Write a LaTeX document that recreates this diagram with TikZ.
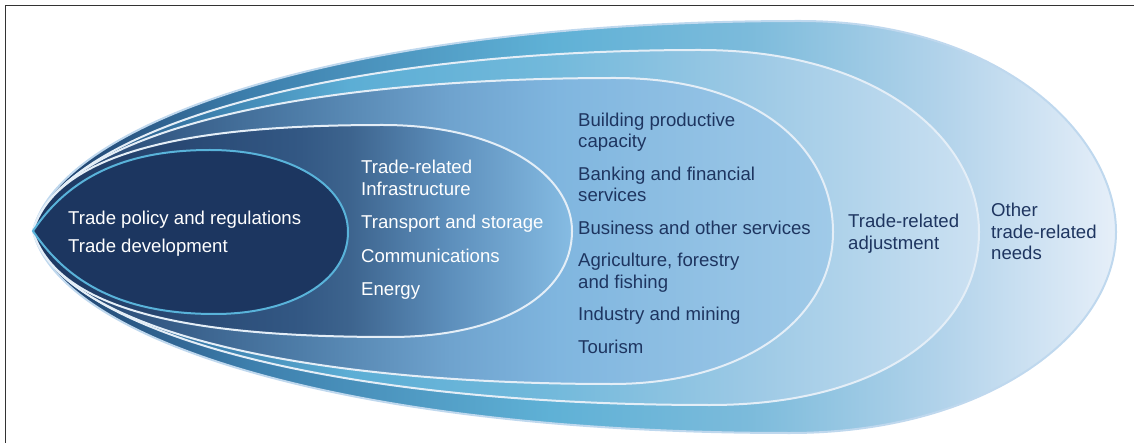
\documentclass[tikz,border=0pt]{standalone}
\usepackage{fontspec}
\setmainfont{Liberation Sans}
\usepackage{tikz}
\definecolor{navy}{HTML}{1C3660}
\definecolor{inktext}{HTML}{1E3560}
\definecolor{rimcyan}{HTML}{59B3DA}
\definecolor{rimwhite}{HTML}{E4EEF7}
\definecolor{rimouter}{HTML}{BFD8EE}
\definecolor{framegray}{HTML}{333333}
% horizontal fades, path box = 25bp..75bp
\pgfdeclarehorizontalshading{othershade}{100bp}{rgb(0bp)=(0.110,0.227,0.400); rgb(25bp)=(0.110,0.227,0.400);
  rgb(35bp)=(0.239,0.498,0.678); rgb(48.9bp)=(0.373,0.694,0.839); rgb(58.1bp)=(0.486,0.733,0.859);
  rgb(67.3bp)=(0.706,0.831,0.922); rgb(75bp)=(0.902,0.937,0.976); rgb(100bp)=(0.902,0.937,0.976)}
\pgfdeclarehorizontalshading{adjustshade}{100bp}{rgb(0bp)=(0.118,0.243,0.416); rgb(25bp)=(0.118,0.243,0.416);
  rgb(33.8bp)=(0.227,0.490,0.671); rgb(41.8bp)=(0.361,0.682,0.835); rgb(52.3bp)=(0.447,0.725,0.859);
  rgb(62.9bp)=(0.612,0.788,0.898); rgb(75bp)=(0.800,0.882,0.949); rgb(100bp)=(0.800,0.882,0.949)}
\pgfdeclarehorizontalshading{capacityshade}{100bp}{rgb(0bp)=(0.118,0.231,0.400); rgb(25bp)=(0.118,0.231,0.400);
  rgb(41.7bp)=(0.306,0.490,0.659); rgb(51.1bp)=(0.435,0.639,0.808); rgb(57.9bp)=(0.502,0.714,0.875);
  rgb(75bp)=(0.627,0.792,0.910); rgb(100bp)=(0.627,0.792,0.910)}
\pgfdeclarehorizontalshading{infrashade}{100bp}{rgb(0bp)=(0.110,0.212,0.376); rgb(25bp)=(0.110,0.212,0.376);
  rgb(49.8bp)=(0.200,0.345,0.518); rgb(54.4bp)=(0.239,0.392,0.557); rgb(63.7bp)=(0.365,0.561,0.737);
  rgb(75bp)=(0.525,0.737,0.890); rgb(100bp)=(0.525,0.737,0.890)}

\begin{document}
\begin{tikzpicture}[
  x=1pt, y=-1pt,
  layer/.style={line width=2pt, draw=rimwhite},
  lbl/.style={anchor=base west, align=left, inner sep=0pt, font=\fontsize{18.6}{21.5}\selectfont},
  lbllight/.style={lbl, text=white},
  lbldark/.style={lbl, text=inktext}
]
  \useasboundingbox (0,0) rectangle (1134,443);
  \draw[framegray, line width=1.3pt] (5.5,443) -- (5.5,5.5) -- (1134,5.5);

  % outer to inner
  \path[layer, shading=othershade, draw=rimouter] (33,231) .. controls (60,120) and (350,21) .. (800,21)
    .. controls (1000,21) and (1116,135) .. (1116,232) .. controls (1116,335) and (985,433) .. (790,433)
    .. controls (350,433) and (60,342) .. (33,231) -- cycle;
  \path[layer, shading=adjustshade] (33,231) .. controls (62,130) and (330,50) .. (700,50)
    .. controls (880,50) and (979,140) .. (979,232) .. controls (979,330) and (880,405) .. (710,405)
    .. controls (330,405) and (62,332) .. (33,231) -- cycle;
  \path[layer, shading=capacityshade] (33,231) .. controls (60,132) and (300,78) .. (615,78)
    .. controls (760,78) and (833,150) .. (833,232) .. controls (833,318) and (745,384) .. (612,384)
    .. controls (300,384) and (60,330) .. (33,231) -- cycle;
  \path[layer, shading=infrashade] (33,231) .. controls (58,148) and (200,125) .. (383,125)
    .. controls (500,125) and (572,175) .. (572,231) .. controls (572,295) and (500,337) .. (390,337)
    .. controls (200,337) and (58,314) .. (33,231) -- cycle;
  \path[layer, fill=navy, draw=rimcyan] (33,231) .. controls (75,168) and (140,150) .. (210,150)
    .. controls (290,150) and (348,185) .. (348,232) .. controls (348,282) and (290,314) .. (215,314)
    .. controls (140,314) and (75,294) .. (33,231) -- cycle;

  % labels sit on the baseline of their last line
  \node[lbllight] (policy) at (68,253) {Trade policy and regulations\\[7pt]Trade development};
  \node[lbllight] (infra) at (361,296) {Trade-related\\Infrastructure\\[12pt]Transport and storage\\[12pt]Communications\\[12pt]Energy};
  \node[lbldark] (capacity) at (578,353.3) {Building productive\\capacity\\[11pt]Banking and financial\\services\\[11pt]Business and other services\\[11pt]Agriculture, forestry\\and fishing\\[11pt]Industry and mining\\[11pt]Tourism};
  \node[lbldark] (adjust) at (848,249.3) {Trade-related\\adjustment};
  \node[lbldark] (other) at (991,260) {Other\\trade-related\\needs};
\end{tikzpicture}
\end{document}
